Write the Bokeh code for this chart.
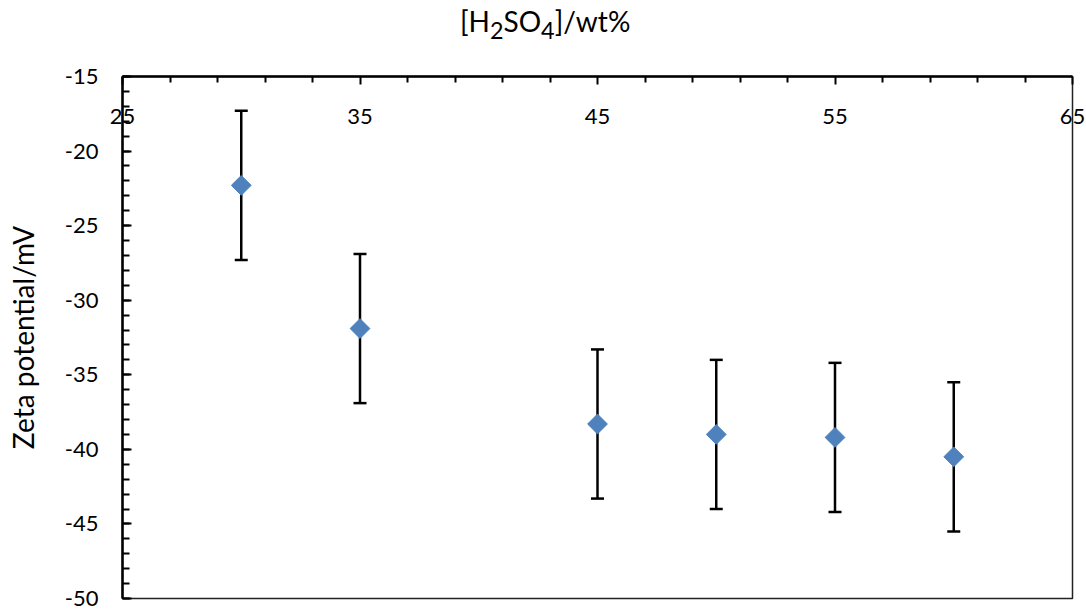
import numpy as np
from bokeh.plotting import figure
from bokeh.layouts import column
from bokeh.models import (Range1d, LinearAxis, SingleIntervalTicker, FixedTicker, Whisker,
                          ColumnDataSource, TeeHead, Div)
from bokeh.embed import file_html
from bokeh.resources import INLINE

# H2SO4 concentration (wt%) and measured zeta potential (mV)
acid_wt = [30, 35, 45, 50, 55, 60]
zeta_mv = [-22.3, -31.9, -38.3, -39.0, -39.2, -40.5]
zeta_err = [5, 5, 5, 5, 5, 5]

x_ticks = [25, 35, 45, 55, 65]
x_minor_ticks = [27, 29, 31, 33, 37, 39, 41, 43, 47, 49, 51, 53, 57, 59, 61, 63]
y_ticks = [-50, -45, -40, -35, -30, -25, -20, -15]

FONT = "Lato, 'Noto Sans'"
MARKER = "#4F81BD"
HEADER_H = 50

# heading row above the chart
header = Div(text="[H<sub>2</sub>SO<sub>4</sub>]/wt%", width=1086, height=HEADER_H, margin=0,
             styles={"font-family": "Lato, 'Noto Sans', sans-serif", "font-size": "28px",
                     "color": "black", "padding-left": "460px", "padding-top": "6px",
                     "line-height": "1.1", "background": "white"})

p = figure(width=1086, height=610 - HEADER_H, output_backend="svg", toolbar_location=None,
           x_range=Range1d(25, 65), y_range=Range1d(-50, -15),
           x_axis_location=None, y_axis_location=None,
           min_border_left=122, min_border_right=14,
           min_border_top=76 - HEADER_H, min_border_bottom=12, margin=0)
p.background_fill_color = "white"
p.border_fill_color = "white"
p.grid.visible = False
p.outline_line_color = "#222222"
p.outline_line_width = 1.5

# left axis: majors every 5, minors every 1, ticks pointing inward
yax = LinearAxis(ticker=SingleIntervalTicker(interval=5, num_minor_ticks=5))
yax.axis_line_width = 2.5
yax.axis_line_color = "black"
yax.major_tick_in = 9
yax.major_tick_out = 0
yax.minor_tick_in = 7
yax.minor_tick_out = 0
yax.major_tick_line_width = 2
yax.minor_tick_line_width = 2
yax.major_label_text_font = FONT
yax.major_label_text_font_size = "22px"
yax.major_label_text_color = "black"
yax.major_label_text_line_height = 1.0
yax.major_label_standoff = 24
yax.major_label_overrides = {v: str(v) for v in y_ticks}
yax.axis_label = "Zeta potential/mV"
yax.axis_label_text_font = FONT
yax.axis_label_text_font_size = "28px"
yax.axis_label_text_font_style = "normal"
yax.axis_label_text_color = "black"
yax.axis_label_standoff = 22
p.add_layout(yax, "left")

# top axis: majors every 10 from 25, minors every 2; labels hang inside the frame
xax = LinearAxis(ticker=FixedTicker(ticks=x_ticks, minor_ticks=x_minor_ticks))
xax.axis_line_width = 2.5
xax.axis_line_color = "black"
xax.major_tick_in = 8
xax.major_tick_out = 0
xax.minor_tick_in = 6
xax.minor_tick_out = 0
xax.major_tick_line_width = 2
xax.minor_tick_line_width = 2
xax.major_label_text_font = FONT
xax.major_label_text_font_size = "22px"
xax.major_label_text_color = "black"
xax.major_label_standoff = -47
p.add_layout(xax, "above")

# error bars
src = ColumnDataSource(dict(
    x=acid_wt, y=zeta_mv,
    lo=[v - e for v, e in zip(zeta_mv, zeta_err)],
    hi=[v + e for v, e in zip(zeta_mv, zeta_err)],
))
p.add_layout(Whisker(base="x", lower="lo", upper="hi", source=src, dimension="height",
                     line_color="black", line_width=2.5,
                     lower_head=TeeHead(size=13, line_color="black", line_width=2.5),
                     upper_head=TeeHead(size=13, line_color="black", line_width=2.5)))

# diamond markers
p.scatter("x", "y", source=src, marker="square", angle=np.pi / 4, size=14,
          fill_color=MARKER, line_color=MARKER)

layout = column(header, p, spacing=0)
open("out.html", "w").write(file_html(layout, INLINE))
